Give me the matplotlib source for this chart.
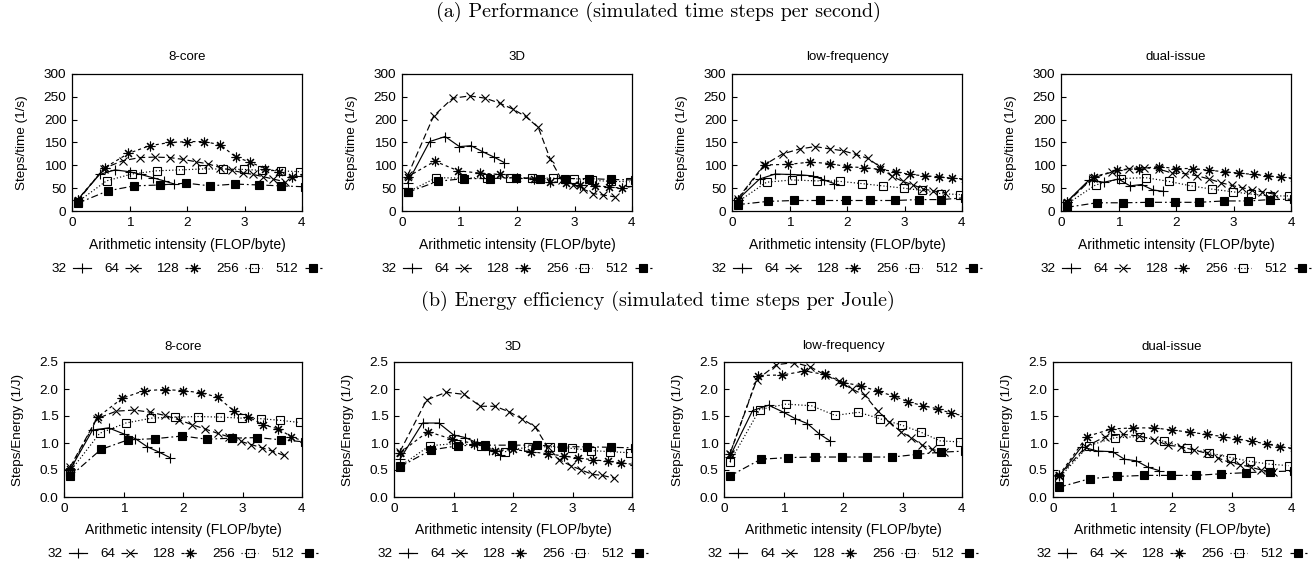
import matplotlib
matplotlib.use("Agg")
import matplotlib.pyplot as plt
from matplotlib.lines import Line2D

# ---------------- data ----------------
panels = ["8-core", "3D", "low-frequency", "dual-issue"]
sizes = ["32", "64", "128", "256", "512"]

x32 = [0.1, 0.48, 0.75, 1.0, 1.2, 1.4, 1.6, 1.78]
x64 = [0.1, 0.55, 0.88, 1.18, 1.45, 1.7, 1.93, 2.15, 2.37, 2.58, 2.78, 2.97, 3.15, 3.33, 3.5, 3.7]
x128 = [0.1, 0.57, 0.98, 1.35, 1.7, 2.0, 2.3, 2.58, 2.85, 3.1, 3.35, 3.6, 3.82, 4.05]
x256 = [0.1, 0.6, 1.04, 1.47, 1.87, 2.26, 2.62, 2.99, 3.31, 3.63, 3.96]
x512 = [0.1, 0.62, 1.08, 1.53, 1.99, 2.4, 2.83, 3.25, 3.64, 4.05]

# Performance (steps per second)
perf_8core_32 = [25, 80, 90, 86, 80, 73, 66, 59]
perf_8core_64 = [22, 93, 110, 117, 118, 117, 113, 108, 103, 95, 89, 84, 80, 75, 70, 64]
perf_8core_128 = [25, 95, 126, 143, 150, 152, 152, 145, 118, 107, 93, 86, 74, 80]
perf_8core_256 = [20, 66, 81, 88, 90, 92, 92, 91, 89, 88, 86]
perf_8core_512 = [17, 44, 55, 57, 61, 55, 59, 57, 55, 53]

perf_3d_32 = [62, 152, 163, 141, 143, 130, 118, 106]
perf_3d_64 = [78, 208, 247, 252, 247, 236, 223, 207, 183, 113, 68, 58, 48, 38, 35, 31]
perf_3d_128 = [75, 109, 88, 83, 80, 73, 70, 64, 62, 57, 55, 53, 50, 55]
perf_3d_256 = [42, 73, 72, 73, 73, 72, 72, 71, 67, 65, 64]
perf_3d_512 = [41, 65, 71, 71, 73, 71, 71, 71, 69, 68]

perf_lowf_32 = [25, 70, 81, 80, 79, 77, 68, 60]
perf_lowf_64 = [27, 100, 125, 136, 141, 136, 132, 124, 115, 96, 76, 65, 57, 48, 44, 40]
perf_lowf_128 = [25, 101, 102, 107, 104, 97, 95, 91, 86, 80, 77, 75, 72, 70]
perf_lowf_256 = [20, 63, 68, 66, 65, 60, 55, 50, 45, 38, 36]
perf_lowf_512 = [14, 21, 23, 23, 23, 23, 23, 25, 25, 29]

perf_dual_32 = [20, 67, 63, 70, 55, 58, 46, 43]
perf_dual_64 = [18, 72, 85, 93, 95, 92, 83, 82, 77, 70, 62, 56, 51, 46, 42, 37]
perf_dual_128 = [20, 75, 89, 93, 97, 93, 93, 89, 86, 83, 80, 77, 74, 72]
perf_dual_256 = [15, 57, 71, 73, 65, 55, 48, 42, 37, 33, 33]
perf_dual_512 = [8, 18, 18, 19, 19, 19, 22, 22, 25, 26]

# Energy efficiency (steps per Joule)
en_8core_32 = [0.5, 1.24, 1.28, 1.17, 1.08, 0.93, 0.83, 0.73]
en_8core_64 = [0.55, 1.45, 1.59, 1.61, 1.57, 1.51, 1.43, 1.34, 1.26, 1.18, 1.11, 1.03, 0.97, 0.91, 0.85, 0.77]
en_8core_128 = [0.52, 1.48, 1.83, 1.97, 1.99, 1.97, 1.93, 1.85, 1.6, 1.48, 1.34, 1.26, 1.12, 1.02]
en_8core_256 = [0.47, 1.18, 1.37, 1.46, 1.48, 1.49, 1.48, 1.46, 1.45, 1.42, 1.38]
en_8core_512 = [0.38, 0.88, 1.06, 1.08, 1.13, 1.07, 1.09, 1.1, 1.06, 1.02]

en_3d_32 = [0.7, 1.37, 1.37, 1.15, 1.1, 1.0, 0.87, 0.78]
en_3d_64 = [0.84, 1.8, 1.94, 1.9, 1.68, 1.68, 1.58, 1.45, 1.3, 0.93, 0.69, 0.58, 0.5, 0.42, 0.4, 0.35]
en_3d_128 = [0.82, 1.21, 1.07, 0.99, 0.86, 0.88, 0.84, 0.8, 0.76, 0.72, 0.69, 0.66, 0.63, 0.6]
en_3d_256 = [0.57, 0.95, 0.99, 0.95, 0.84, 0.93, 0.93, 0.9, 0.86, 0.84, 0.82]
en_3d_512 = [0.56, 0.87, 0.95, 0.96, 0.96, 0.96, 0.93, 0.93, 0.92, 0.91]

en_lowf_32 = [0.75, 1.6, 1.7, 1.57, 1.45, 1.36, 1.17, 1.04]
en_lowf_64 = [0.8, 2.17, 2.45, 2.49, 2.41, 2.26, 2.14, 2.0, 1.88, 1.6, 1.39, 1.21, 1.1, 0.96, 0.88, 0.83]
en_lowf_128 = [0.8, 2.25, 2.26, 2.33, 2.27, 2.12, 2.06, 1.96, 1.87, 1.76, 1.69, 1.63, 1.55, 1.5]
en_lowf_256 = [0.65, 1.62, 1.72, 1.69, 1.51, 1.57, 1.45, 1.33, 1.2, 1.04, 1.02]
en_lowf_512 = [0.39, 0.7, 0.73, 0.74, 0.74, 0.74, 0.74, 0.79, 0.83, 0.85]

en_dual_32 = [0.38, 0.93, 0.85, 0.84, 0.7, 0.67, 0.55, 0.49]
en_dual_64 = [0.38, 0.93, 1.12, 1.16, 1.13, 1.06, 0.96, 0.93, 0.87, 0.81, 0.72, 0.64, 0.6, 0.55, 0.5, 0.47]
en_dual_128 = [0.4, 1.12, 1.26, 1.28, 1.28, 1.24, 1.2, 1.16, 1.12, 1.07, 1.03, 0.98, 0.93, 0.9]
en_dual_256 = [0.35, 0.95, 1.1, 1.12, 1.03, 0.9, 0.82, 0.73, 0.66, 0.61, 0.58]
en_dual_512 = [0.18, 0.34, 0.38, 0.4, 0.4, 0.4, 0.43, 0.45, 0.47, 0.48]

xs = [x32, x64, x128, x256, x512]
perf = [
    [perf_8core_32, perf_8core_64, perf_8core_128, perf_8core_256, perf_8core_512],
    [perf_3d_32, perf_3d_64, perf_3d_128, perf_3d_256, perf_3d_512],
    [perf_lowf_32, perf_lowf_64, perf_lowf_128, perf_lowf_256, perf_lowf_512],
    [perf_dual_32, perf_dual_64, perf_dual_128, perf_dual_256, perf_dual_512],
]
energy = [
    [en_8core_32, en_8core_64, en_8core_128, en_8core_256, en_8core_512],
    [en_3d_32, en_3d_64, en_3d_128, en_3d_256, en_3d_512],
    [en_lowf_32, en_lowf_64, en_lowf_128, en_lowf_256, en_lowf_512],
    [en_dual_32, en_dual_64, en_dual_128, en_dual_256, en_dual_512],
]

# ---------------- styles ----------------
plt.rcParams["font.family"] = ["Liberation Sans", "DejaVu Sans"]
LW = 0.85
styles = [
    dict(ls="-", marker="+", ms=6.5, mfc="none"),
    dict(ls=(0, (5.5, 2.8)), marker="x", ms=5.5, mfc="none"),
    dict(ls=(0, (2.6, 2.6)), marker=(8, 2, 0), ms=7, mfc="none"),
    dict(ls=(0, (1.0, 1.8)), marker="s", ms=5.5, mfc="none"),
    dict(ls=(0, (6, 2.5, 1.5, 2.5)), marker="s", ms=5.5, mfc="black"),
]

W, H = 1316, 568
fig = plt.figure(figsize=(W / 100, H / 100), dpi=100)


def fx(px):
    return px / W


def fy(py):
    return 1 - py / H


def make_row(data, lefts, width, top, bottom, ylim, yticks, yfmt, ylabel, legend_y, title_pad, ylabel_pad, xlabel_pad):
    for i, name in enumerate(panels):
        ax = fig.add_axes([fx(lefts[i]), fy(bottom), fx(width), (bottom - top) / H])
        for k in range(5):
            st = styles[k]
            ax.plot(xs[k], data[i][k], color="black", lw=LW, ls=st["ls"],
                    marker=st["marker"], ms=st["ms"], mfc=st["mfc"], mec="black",
                    mew=0.8, clip_on=True)
        ax.set_xlim(0, 4)
        ax.set_ylim(*ylim)
        ax.set_xticks([0, 1, 2, 3, 4])
        ax.set_yticks(yticks)
        ax.set_yticklabels([yfmt.format(v) for v in yticks])
        ax.tick_params(direction="in", length=3.5, width=0.8, labelsize=9.7, pad=4,
                       top=False, right=False)
        for sp in ax.spines.values():
            sp.set_linewidth(0.9)
        ax.set_title(name, fontsize=9.5, pad=title_pad)
        ax.set_xlabel("Arithmetic intensity (FLOP/byte)", fontsize=10, labelpad=xlabel_pad)
        ax.set_ylabel(ylabel, fontsize=9.7, labelpad=ylabel_pad)
        handles = []
        for k in range(5):
            st = styles[k]
            handles.append(Line2D([], [], color="black", lw=LW, ls=st["ls"],
                                  marker=st["marker"], ms=st["ms"], mfc=st["mfc"],
                                  mec="black", mew=0.8))
        cx = lefts[i] + width / 2
        ax.legend(handles, sizes, loc="center", ncol=5, frameon=False,
                  bbox_to_anchor=(fx(cx), fy(legend_y)), bbox_transform=fig.transFigure,
                  markerfirst=False, handlelength=1.3, handletextpad=0.45,
                  columnspacing=1.0, fontsize=9.7, borderaxespad=0, borderpad=0)


make_row(perf, [72, 402, 732, 1061], 230, 74, 211, (0, 300),
         [0, 50, 100, 150, 200, 250, 300], "{:.0f}", "Steps/time (1/s)", 269, 10, 11, 6.5)
make_row(energy, [64, 394, 724, 1053], 238, 362, 497, (0, 2.5),
         [0.0, 0.5, 1.0, 1.5, 2.0, 2.5], "{:.1f}", "Steps/Energy (1/J)", 554, 9, 11, 6)

fig.text(0.5, fy(12), "(a) Performance (simulated time steps per second)",
         ha="center", va="center", fontsize=14.5, family="cmr10")
fig.text(0.5, fy(301), "(b) Energy efficiency (simulated time steps per Joule)",
         ha="center", va="center", fontsize=14.5, family="cmr10")

fig.savefig("out.png", dpi=100)
